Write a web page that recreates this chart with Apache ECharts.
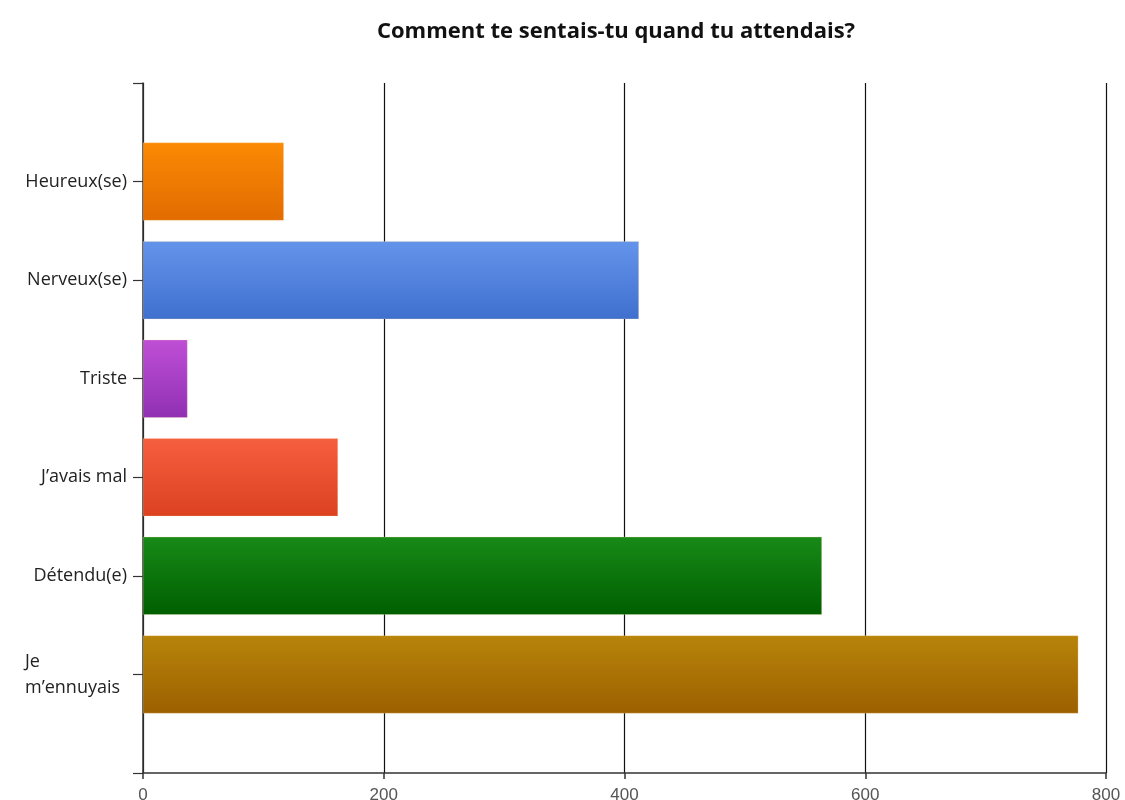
<!DOCTYPE html>
<html>
<head>
<meta charset="utf-8">
<script src="https://cdn.jsdelivr.net/npm/echarts@6/dist/echarts.min.js"></script>
<style>
  html, body { margin: 0; padding: 0; background: #fff; }
  #chart { width: 1125px; height: 800px; }
</style>
</head>
<body>
<div id="chart"></div>
<script>
// Feelings while waiting, one bar per answer (top to bottom)
const categories = ['Heureux(se)', 'Nerveux(se)', 'Triste', 'J’avais mal', 'Détendu(e)', 'Je m’ennuyais'];
const counts = [117, 412, 37, 162, 564, 777];
const topColors = ['#fb8a04', '#6494ea', '#bf4fd6', '#f65e40', '#178a17', '#b8840a'];
const bottomColors = ['#e26c00', '#3f70cf', '#9030b2', '#dc4220', '#005f00', '#9c6000'];
const xTicks = [0, 200, 400, 600, 800];

// Category axis runs from an empty slot above the first answer to one below the last
const axisCats = [''].concat(categories).concat(['']);
const seriesData = [null].concat(counts.map((v, i) => ({
  value: v,
  itemStyle: {
    color: new echarts.graphic.LinearGradient(0, 0, 0, 1, [
      { offset: 0, color: topColors[i] },
      { offset: 1, color: bottomColors[i] }
    ])
  }
}))).concat([null]);

const chart = echarts.init(document.getElementById('chart'), null, { renderer: 'canvas' });
chart.setOption({
  animation: false,
  backgroundColor: '#ffffff',
  title: {
    text: 'Comment te sentais-tu quand tu attendais?',
    left: 611,
    textAlign: 'center',
    top: 16,
    textStyle: { fontFamily: 'Open Sans', fontWeight: 'bold', fontSize: 22, color: '#111' }
  },
  grid: { left: 143, right: 19, top: 83, bottom: 27, containLabel: false, outerBoundsMode: 'none' },
  xAxis: {
    type: 'value',
    min: xTicks[0],
    max: xTicks[xTicks.length - 1],
    interval: 200,
    axisLine: { show: true, lineStyle: { color: '#333', width: 1.5 } },
    axisTick: { show: true, inside: false, length: 6, lineStyle: { color: '#333', width: 1.5 } },
    axisLabel: { fontFamily: 'Liberation Sans', fontSize: 17, color: '#555', margin: 14 },
    splitLine: { show: true, lineStyle: { color: '#111', width: 1.2 } }
  },
  yAxis: {
    type: 'category',
    inverse: true,
    boundaryGap: false,
    data: axisCats,
    axisLine: { show: true, lineStyle: { color: '#333', width: 1.5 } },
    axisTick: { show: true, length: 10, lineStyle: { color: '#333', width: 1.2 } },
    axisLabel: {
      fontFamily: 'Open Sans',
      fontSize: 18,
      color: '#222',
      margin: 16,
      formatter: function (v) {
        if (v === 'Je m’ennuyais') return '{l|Je}\n{l|m’ennuyais}';
        return v;
      },
      rich: {
        l: { width: 102, align: 'left', fontFamily: 'Open Sans', fontSize: 18, color: '#222', lineHeight: 26 }
      }
    },
    splitLine: { show: false }
  },
  series: [{
    type: 'bar',
    data: seriesData,
    barWidth: 78,
    itemStyle: { borderColor: 'rgba(255,230,180,0.5)', borderWidth: 0.5 }
  }]
});
</script>
</body>
</html>
